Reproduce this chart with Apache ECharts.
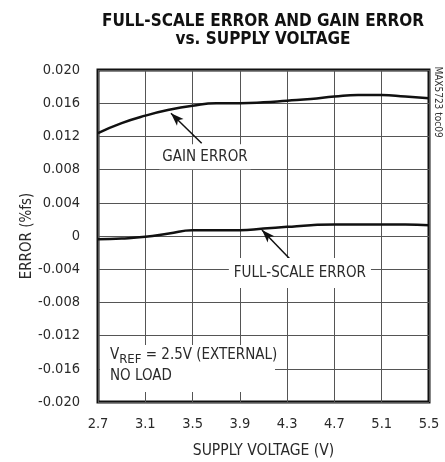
<!DOCTYPE html>
<html>
<head>
<meta charset="utf-8">
<script src="https://cdn.jsdelivr.net/npm/echarts@6/dist/echarts.min.js"></script>
<style>
  html, body { margin: 0; padding: 0; background: #fff; }
  #chart { width: 445px; height: 462px; }
</style>
</head>
<body>
<div id="chart"></div>
<script>
// 数据
var voltage = [2.7, 2.9, 3.1, 3.3, 3.5, 3.7, 3.9, 4.1, 4.3, 4.5, 4.7, 4.9, 5.1, 5.3, 5.5];
var gainError = [0.0124, 0.0136, 0.0145, 0.0152, 0.0157, 0.0160, 0.0160, 0.0161, 0.0163, 0.0165, 0.0168, 0.0170, 0.0170, 0.0168, 0.0166];
var fullScaleError = [-0.0004, -0.0003, -0.0001, 0.0003, 0.0007, 0.0007, 0.0007, 0.0009, 0.0011, 0.0013, 0.0014, 0.0014, 0.0014, 0.0014, 0.0013];
var xTicks = [2.7, 3.1, 3.5, 3.9, 4.3, 4.7, 5.1, 5.5];

var FONT = '"Liberation Sans Narrow", "DejaVu Sans Condensed", "Liberation Sans", sans-serif';
var TEXT = '#2a2a2a';

function pairs(ys) {
  return voltage.map(function (v, i) { return [v, ys[i]]; });
}

var chart = echarts.init(document.getElementById('chart'));

var option = {
  animation: false,
  title: {
    text: 'FULL-SCALE ERROR AND GAIN ERROR\nvs. SUPPLY VOLTAGE',
    left: 258,
    top: 8,
    textAlign: 'center',
    textStyle: {
      fontFamily: FONT,
      fontWeight: 'bold',
      fontSize: 17,
      lineHeight: 18,
      color: '#111'
    }
  },
  grid: {
    left: 98,
    right: 16,
    top: 70,
    bottom: 60,
    outerBoundsMode: 'none',
    containLabel: false,
    show: true,
    borderColor: '#111',
    borderWidth: 3
  },
  xAxis: {
    type: 'value',
    min: 2.7,
    max: 5.5,
    name: 'SUPPLY VOLTAGE (V)',
    nameLocation: 'middle',
    nameGap: 41,
    nameMoveOverlap: false,
    nameTextStyle: { fontFamily: FONT, fontSize: 15.5, color: TEXT },
    axisLine: { show: false },
    axisTick: { show: false, customValues: xTicks },
    axisLabel: {
      customValues: xTicks,
      margin: 15,
      fontFamily: FONT,
      fontSize: 14.5,
      color: TEXT,
      formatter: function (v) { return v.toFixed(1); }
    },
    splitLine: { show: true, customValues: xTicks, lineStyle: { color: '#555', width: 1 } }
  },
  yAxis: {
    type: 'value',
    min: -0.02,
    max: 0.02,
    interval: 0.004,
    name: 'ERROR (%fs)',
    nameLocation: 'middle',
    nameGap: 63,
    nameMoveOverlap: false,
    nameTextStyle: { fontFamily: FONT, fontSize: 15, color: TEXT },
    axisLine: { show: false },
    axisTick: { show: false },
    axisLabel: {
      margin: 18,
      fontFamily: FONT,
      fontSize: 14.5,
      color: TEXT,
      formatter: function (v) {
        return Math.abs(v) < 1e-9 ? '0' : v.toFixed(3);
      }
    },
    splitLine: { show: true, lineStyle: { color: '#555', width: 1 } }
  },
  series: [
    {
      name: 'GAIN ERROR',
      type: 'line',
      smooth: true,
      showSymbol: false,
      data: pairs(gainError),
      lineStyle: { color: '#111', width: 2.5 },
      markLine: {
        silent: true,
        symbol: ['none', 'arrow'],
        symbolSize: [7, 13],
        lineStyle: { color: '#111', width: 1.5, type: 'solid' },
        label: { show: false },
        data: [[{ coord: [3.577, 0.01117] }, { coord: [3.317, 0.01478] }]]
      },
      markPoint: {
        silent: true,
        symbolSize: 0,
        label: {
          show: true,
          position: 'inside',
          fontFamily: FONT,
          fontSize: 15,
          color: TEXT,
          backgroundColor: '#fff',
          padding: [5, 3, 5, 3],
          formatter: 'GAIN ERROR'
        },
        data: [{ coord: [3.605, 0.00955] }]
      }
    },
    {
      name: 'FULL-SCALE ERROR',
      type: 'line',
      smooth: true,
      showSymbol: false,
      data: pairs(fullScaleError),
      lineStyle: { color: '#111', width: 2.5 },
      markLine: {
        silent: true,
        symbol: ['none', 'arrow'],
        symbolSize: [7, 13],
        lineStyle: { color: '#111', width: 1.5, type: 'solid' },
        label: { show: false },
        data: [[{ coord: [4.338, -0.00298] }, { coord: [4.087, 0.00072] }]]
      },
      markPoint: {
        silent: true,
        symbolSize: 0,
        label: {
          show: true,
          position: 'inside',
          fontFamily: FONT,
          fontSize: 15,
          color: TEXT,
          backgroundColor: '#fff',
          padding: [8, 5, 7, 5],
          formatter: 'FULL-SCALE ERROR'
        },
        data: [
          { coord: [4.408, -0.00446] },
          // 测试条件标注
          {
            coord: [2.717, -0.01313],
            label: {
              position: [0, 0],
              align: 'left',
              verticalAlign: 'top',
              backgroundColor: '#fff',
              width: 165,
              padding: [0, 0, 5, 10],
              formatter: '{a|V}{s|REF}{a| = 2.5V (EXTERNAL)}\n{a|NO LOAD}',
              rich: {
                a: { fontFamily: FONT, fontSize: 15, lineHeight: 21, color: TEXT },
                s: { fontFamily: FONT, fontSize: 13, lineHeight: 13, verticalAlign: 'bottom', color: TEXT }
              }
            }
          }
        ]
      }
    }
  ],
  graphic: [
    {
      type: 'text',
      x: 438,
      y: 102,
      rotation: -Math.PI / 2,
      style: {
        text: 'MAX5723 toc09',
        fontFamily: FONT,
        fontSize: 10,
        fill: '#333',
        align: 'center',
        verticalAlign: 'middle'
      }
    }
  ]
};

chart.setOption(option);
</script>
</body>
</html>
